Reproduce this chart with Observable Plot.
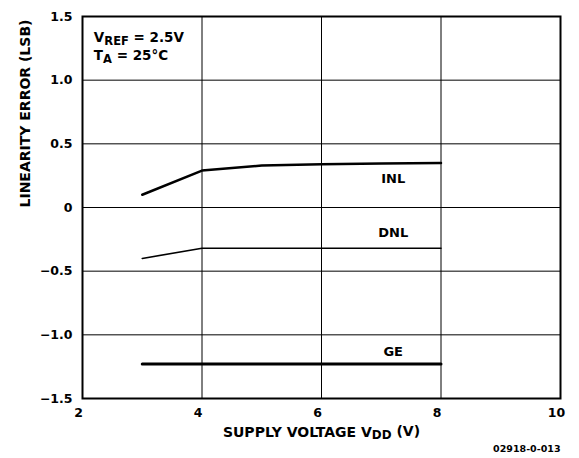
<!DOCTYPE html>
<html>
<head>
<meta charset="utf-8">
<script src="https://cdn.jsdelivr.net/npm/d3@7"></script>
<script src="https://cdn.jsdelivr.net/npm/@observablehq/plot@0.6"></script>
<style>
  html, body { margin: 0; padding: 0; background: #fff; }
  #chart svg { display: block; }
</style>
</head>
<body>
<div id="chart"></div>
<script>
// ---- data ----
const vdd = [3, 4, 5, 6, 7, 8];
const inl = [0.10, 0.29, 0.33, 0.34, 0.345, 0.35];
const dnl = [-0.40, -0.32, -0.32, -0.32, -0.32, -0.32];
const ge  = [-1.23, -1.23, -1.23, -1.23, -1.23, -1.23];

const xTicks = [2, 4, 6, 8, 10];
const xTickLabels = ["2", "4", "6", "8", "10"];
const yTicks = [-1.5, -1.0, -0.5, 0, 0.5, 1.0, 1.5];
const yTickLabels = ["\u22121.5", "\u22121.0", "\u22120.5", "0", "0.5", "1.0", "1.5"];

const seriesNames = ["INL", "DNL", "GE"];
const seriesLabelX = [7.2, 7.2, 7.2];
const seriesLabelY = [0.228, -0.195, -1.13];

const noteLines = ["VREF = 2.5V", "TA = 25\u00b0C"];
const noteX = [2.19, 2.19];
const noteY = [1.298, 1.156];

const xTitle = "SUPPLY VOLTAGE VDD (V)";
const yTitle = "LINEARITY ERROR (LSB)";
const caption = "02918-0-013";

// ---- tables built from the arrays ----
const inlData = vdd.map((v, i) => ({x: v, y: inl[i]}));
const dnlData = vdd.map((v, i) => ({x: v, y: dnl[i]}));
const geData  = vdd.map((v, i) => ({x: v, y: ge[i]}));
const seriesLabels = seriesNames.map((n, i) => ({name: n, x: seriesLabelX[i], y: seriesLabelY[i]}));
const notes = noteLines.map((t, i) => ({t, x: noteX[i], y: noteY[i]}));

const font = "'DejaVu Sans', Verdana, sans-serif";

const chart = Plot.plot({
  width: 579,
  height: 458,
  marginLeft: 82,
  marginRight: 19,
  marginTop: 16,
  marginBottom: 60,
  style: {fontFamily: font, fontWeight: "bold", fontSize: "12.5px", color: "black", background: "white"},
  x: {domain: [2, 10]},
  y: {domain: [-1.5, 1.5]},
  marks: [
    Plot.gridX(xTicks, {stroke: "black", strokeOpacity: 1, strokeWidth: 1}),
    Plot.gridY(yTicks, {stroke: "black", strokeOpacity: 1, strokeWidth: 1}),
    Plot.frame({stroke: "black", strokeWidth: 2}),
    Plot.axisX(xTicks, {tickSize: 0, tickPadding: 10, dx: -4, label: null,
      tickFormat: (d) => xTickLabels[xTicks.indexOf(d)], fontSize: 12.5}),
    Plot.axisY(yTicks, {tickSize: 0, tickPadding: 10, label: null,
      tickFormat: (d) => yTickLabels[yTicks.indexOf(d)], fontSize: 12.5}),
    Plot.line(inlData, {x: "x", y: "y", stroke: "black", strokeWidth: 2.5}),
    Plot.line(dnlData, {x: "x", y: "y", stroke: "black", strokeWidth: 1.6}),
    Plot.line(geData, {x: "x", y: "y", stroke: "black", strokeWidth: 3}),
    Plot.text(seriesLabels, {x: "x", y: "y", text: "name", fontSize: 13, fontWeight: "bold"}),
    Plot.text(notes, {x: "x", y: "y", text: "t", textAnchor: "start", lineAnchor: "bottom", fontSize: 13.5, fontWeight: "bold"}),
    Plot.text([xTitle], {frameAnchor: "bottom", dy: 38, fontSize: 14, fontWeight: "bold"}),
    Plot.text([yTitle], {frameAnchor: "left", rotate: -90, dx: -57, fontSize: 14, fontWeight: "bold"}),
    Plot.text([caption], {frameAnchor: "bottom-right", dy: 53, textAnchor: "end", fontSize: 9.5, fontWeight: "bold"})
  ]
});

// subscripts as real text tspans
const subs = [
  ["VREF = 2.5V", "V", "REF", " = 2.5V"],
  ["TA = 25\u00b0C", "T", "A", " = 25\u00b0C"],
  [xTitle, "SUPPLY VOLTAGE V", "DD", " (V)"]
];
d3.select(chart).selectAll("text").each(function () {
  const el = this;
  const s = subs.find((q) => el.textContent === q[0]);
  if (!s) return;
  const t = d3.select(el);
  t.text(null);
  t.append("tspan").text(s[1]);
  t.append("tspan").attr("dy", "0.25em").attr("font-size", "0.85em").text(s[2]);
  t.append("tspan").attr("dy", "-0.25em").text(s[3]);
});

document.getElementById("chart").append(chart);
</script>
</body>
</html>
